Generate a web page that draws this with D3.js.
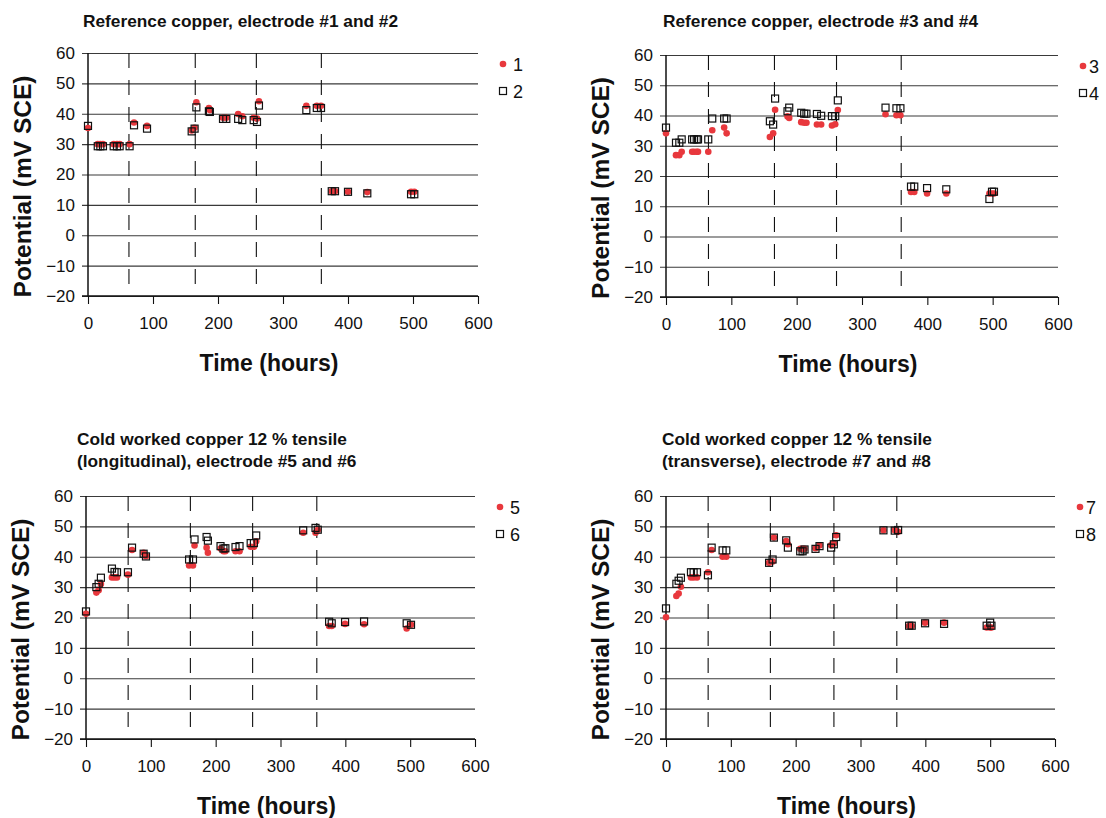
<!DOCTYPE html>
<html>
<head>
<meta charset="utf-8">
<script src="https://cdn.jsdelivr.net/npm/d3@7"></script>
<style>
  body { margin: 0; background: #fff; }
  svg { display: block; font-family: Arial, "Liberation Sans", sans-serif; }
</style>
</head>
<body>
<svg id="chart" width="1106" height="818"></svg>
<script>
// ---- data ----
var xTicks = [0, 100, 200, 300, 400, 500, 600];
var yTicks = [-20, -10, 0, 10, 20, 30, 40, 50, 60];

// panel 1: reference copper #1 / #2
var hours12 = [0, 15, 19, 23, 39.5, 44.6, 48.7, 64, 70.8, 90.8, 159.5, 164, 166.7, 186, 187.5, 207.7, 212.8, 231, 237.4, 254.9, 260, 263, 335.9, 352, 358.5, 375, 380, 400, 429.7, 497, 502];
var elec1 = [35.3, 30, 30, 30, 30, 30, 30, 30, 37.1, 36, 34.5, 35.4, 43.8, 41.9, 41.2, 38.7, 38.7, 39.9, 39.2, 38.7, 38.4, 44.1, 42.6, 42.6, 42.6, 14.5, 14.5, 14.3, 14.2, 14.3, 14.3];
var elec2 = [36.0, 29.3, 29.3, 29.3, 29.3, 29.3, 29.3, 29.3, 36.2, 35.1, 34.2, 35.1, 42.1, 40.8, 40.6, 38.3, 38.3, 38.3, 37.9, 37.9, 37.3, 42.7, 41.2, 41.9, 41.9, 14.5, 14.5, 14.3, 13.8, 13.5, 13.5];
var breaks12 = [63, 165, 259, 359];

// panel 2: reference copper #3 / #4
var hours34 = [0, 15.3, 20.4, 24, 40, 43, 47, 49, 64.7, 70.8, 89, 92.8, 159, 164, 167, 186, 188.6, 207, 211.5, 215, 231, 237.5, 254, 259, 263, 336, 352.7, 358.8, 375, 380, 399.6, 429, 495, 499, 502];
var elec3 = [34.1, 26.9, 26.9, 28.0, 28.0, 28.0, 28.0, 28.0, 28.0, 35.1, 36.0, 34.1, 32.9, 34.1, 41.9, 39.7, 39.2, 37.8, 37.6, 37.6, 37.0, 37.0, 36.7, 37.1, 41.8, 40.4, 40.1, 40.1, 14.7, 14.7, 14.2, 14.2, 14.2, 14.2, 14.2];
var elec4 = [36.0, 31.0, 31.0, 32.1, 32.1, 32.1, 32.1, 32.1, 32.1, 39.0, 39.0, 39.0, 38.1, 37.0, 45.6, 41.4, 42.6, 40.9, 40.6, 40.6, 40.5, 39.9, 39.8, 39.8, 45.0, 42.6, 42.4, 42.4, 16.5, 16.5, 16.0, 15.6, 12.4, 14.8, 14.8];
var breaks34 = [65, 166, 261, 360];

// panel 3: cold worked, longitudinal #5 / #6
var hours56 = [0, 16, 19.5, 23, 40, 44, 47.8, 64.7, 71, 88.9, 92.5, 159, 165, 167.4, 186, 188, 207.5, 212, 215, 230.6, 236.8, 254, 259, 262.5, 335, 354, 357.5, 375, 379, 399.6, 428.9, 494.6, 501.3];
var elec5 = [21.2, 28.2, 29.0, 31.0, 33.2, 33.2, 33.2, 34.1, 42.2, 41.3, 40.2, 37.1, 37.1, 43.7, 43.0, 41.3, 42.7, 41.8, 41.8, 41.8, 41.8, 43.3, 43.3, 45.1, 47.9, 47.9, 48.8, 17.2, 17.2, 17.9, 17.8, 16.4, 17.6];
var elec6 = [22.0, 30.0, 31.1, 33.1, 36.1, 35.0, 34.9, 34.9, 43.0, 41.0, 40.1, 39.1, 39.1, 45.7, 46.5, 45.3, 43.5, 42.7, 42.8, 43.2, 43.5, 44.5, 44.5, 47.0, 48.7, 49.5, 48.9, 18.6, 18.1, 18.5, 18.7, 18.1, 17.6];
var breaks56 = [65, 161, 257, 356];

// panel 4: cold worked, transverse #7 / #8
var hours78 = [0, 16, 19.5, 23, 38.5, 42.6, 47.8, 64.7, 70.4, 87.3, 93, 159, 164.4, 166.4, 185.4, 188, 207, 210.7, 213.7, 230.6, 236.8, 254.7, 258.9, 262.5, 335.4, 352.8, 358, 375, 379, 399.6, 428.9, 494.6, 500, 502];
var elec7 = [20.1, 27.1, 27.9, 30.1, 33.2, 33.2, 33.2, 34.9, 42.2, 40.0, 40.0, 38.0, 38.4, 46.3, 45.2, 44.1, 42.6, 42.6, 42.6, 42.8, 43.7, 43.8, 44.4, 47.1, 48.7, 48.7, 48.2, 17.2, 17.2, 18.3, 18.3, 16.7, 16.7, 16.7];
var elec8 = [23.0, 31.1, 32.1, 33.1, 34.9, 34.9, 34.9, 33.9, 43.0, 42.1, 42.1, 38.0, 39.1, 46.3, 45.4, 43.0, 41.8, 41.8, 42.4, 42.6, 43.5, 43.0, 44.1, 46.5, 48.7, 48.6, 48.8, 17.3, 17.3, 18.1, 17.9, 17.3, 18.3, 17.3];
var breaks78 = [65, 161, 259, 356];

var panels = [
  { title: ["Reference copper, electrode #1 and #2"], tx: 83, ty: 27,
    box: [88, 478, 53, 296], hours: hours12, a: elec1, b: elec2, names: ["1", "2"], breaks: breaks12, gap: 10 },
  { title: ["Reference copper, electrode #3 and #4"], tx: 663, ty: 27,
    box: [666, 1058, 55, 297], hours: hours34, a: elec3, b: elec4, names: ["3", "4"], breaks: breaks34, gap: 6 },
  { title: ["Cold worked copper 12 % tensile", "(longitudinal), electrode #5 and #6"], tx: 77, ty: 445,
    box: [86, 475, 496, 739], hours: hours56, a: elec5, b: elec6, names: ["5", "6"], breaks: breaks56, gap: 10 },
  { title: ["Cold worked copper 12 % tensile", "(transverse), electrode #7 and #8"], tx: 662, ty: 445,
    box: [666, 1055, 496, 739], hours: hours78, a: elec7, b: elec8, names: ["7", "8"], breaks: breaks78, gap: 6 }
];

var red = "#e8383d";
var svg = d3.select("#chart");

function drawPanel(p) {
  var left = p.box[0], right = p.box[1], top = p.box[2], bottom = p.box[3];
  var w = right - left;

  var x = d3.scaleLinear().domain([0, 600]).range([left, right]);
  var y = d3.scaleLinear().domain([-20, 60]).range([bottom, top]);

  var g = svg.append("g");

  // title
  var t = g.append("text")
    .attr("x", p.tx).attr("y", p.ty)
    .attr("font-size", 17.3).attr("font-weight", "bold").attr("fill", "#111");
  p.title.forEach(function (line, i) {
    t.append("tspan").attr("x", p.tx).attr("dy", i ? 22 : 0).text(line);
  });

  // horizontal grid + y labels
  var yAxis = g.append("g")
    .attr("transform", "translate(" + (left - 6) + ",0)")
    .call(d3.axisLeft(y).tickValues(yTicks).tickSize(-(w + 6)).tickPadding(7));
  yAxis.select(".domain").remove();
  yAxis.selectAll(".tick line").attr("stroke", "#3a3a3a").attr("stroke-width", 1.1);
  yAxis.selectAll(".tick text").attr("font-size", 17).attr("fill", "#111")
    .attr("font-family", "Arial, 'Liberation Sans', sans-serif");

  // x ticks + labels
  var xAxis = g.append("g")
    .attr("transform", "translate(0," + bottom + ")")
    .call(d3.axisBottom(x).tickValues(xTicks).tickSize(8).tickPadding(13));
  xAxis.select(".domain").remove();
  xAxis.selectAll(".tick line").attr("stroke", "#111").attr("stroke-width", 1.1);
  xAxis.selectAll(".tick text").attr("font-size", 17).attr("fill", "#111")
    .attr("font-family", "Arial, 'Liberation Sans', sans-serif");

  // dashed vertical lines
  g.selectAll(".brk").data(p.breaks).enter().append("line")
    .attr("x1", d => x(d)).attr("x2", d => x(d))
    .attr("y1", top).attr("y2", bottom)
    .attr("stroke", "#111").attr("stroke-width", 1.1)
    .attr("stroke-dasharray", "15,12");

  // axes lines
  g.append("line").attr("x1", left).attr("x2", left).attr("y1", top).attr("y2", bottom)
    .attr("stroke", "#111").attr("stroke-width", 1.5);
  g.append("line").attr("x1", left - 6).attr("x2", right).attr("y1", bottom).attr("y2", bottom)
    .attr("stroke", "#111").attr("stroke-width", 1.3);

  // axis titles
  g.append("text")
    .attr("transform", "translate(" + (left - 57) + "," + ((top + bottom) / 2 + 12) + ") rotate(-90)")
    .attr("text-anchor", "middle").attr("font-size", 24.5).attr("font-weight", "bold").attr("fill", "#111")
    .text("Potential (mV SCE)");
  g.append("text")
    .attr("x", (left + right) / 2 - 14).attr("y", bottom + 75)
    .attr("text-anchor", "middle").attr("font-size", 23).attr("font-weight", "bold").attr("fill", "#111")
    .text("Time (hours)");

  // series A: red dots
  g.selectAll(".dot").data(p.hours).enter().append("circle")
    .attr("cx", d => x(d)).attr("cy", (d, i) => y(p.a[i]))
    .attr("r", 3.3).attr("fill", red);

  // series B: open squares
  g.selectAll(".sq").data(p.hours).enter().append("rect")
    .attr("x", d => x(d) - 3.5).attr("y", (d, i) => y(p.b[i]) - 3.5)
    .attr("width", 7).attr("height", 7)
    .attr("fill", "none").attr("stroke", "#111").attr("stroke-width", 1.2);

  // legend
  var lx = right + 25;
  g.append("circle").attr("cx", lx).attr("cy", top + 11).attr("r", 3.3).attr("fill", red);
  g.append("rect").attr("x", lx - 3.5).attr("y", top + 38 - 3.5).attr("width", 7).attr("height", 7)
    .attr("fill", "none").attr("stroke", "#111").attr("stroke-width", 1.2);
  g.append("text").attr("x", lx + p.gap).attr("y", top + 18).attr("font-size", 18).attr("fill", "#111").text(p.names[0]);
  g.append("text").attr("x", lx + p.gap).attr("y", top + 45).attr("font-size", 18).attr("fill", "#111").text(p.names[1]);
}

panels.forEach(drawPanel);
</script>
</body>
</html>
